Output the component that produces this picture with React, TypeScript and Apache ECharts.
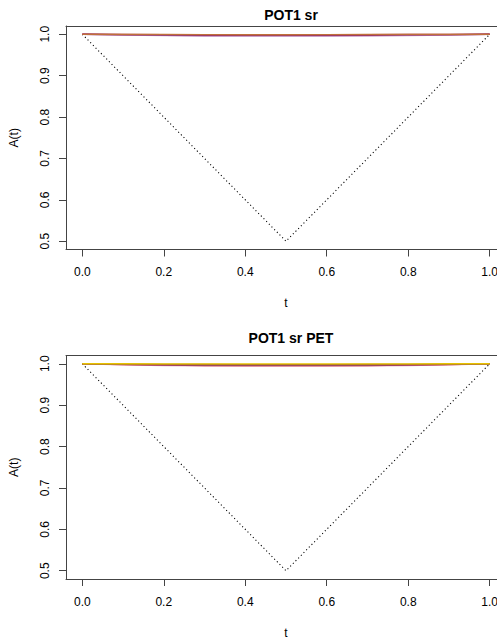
import React, { useEffect, useRef } from "react";
import * as echarts from "echarts";

// Evaluation points for the dependence functions
const tValues = [0, 0.1, 0.2, 0.3, 0.4, 0.5, 0.6, 0.7, 0.8, 0.9, 1.0];

// Lower bound max(t, 1 - t)
const boundT = [0, 0.5, 1];
const boundA = [1, 0.5, 1];

const xTicks = [0, 0.2, 0.4, 0.6, 0.8, 1.0];
const yTicks = [0.5, 0.6, 0.7, 0.8, 0.9, 1.0];

// Panel 1: POT1 sr
const srLavender = [1, 0.9982, 0.9968, 0.996, 0.9956, 0.9955, 0.9956, 0.996, 0.9968, 0.9982, 1];
const srPurple = [1, 0.9987, 0.9977, 0.9971, 0.9968, 0.9968, 0.9969, 0.9973, 0.998, 0.999, 1];
const srRed = [1, 0.9996, 0.9992, 0.9989, 0.9988, 0.9988, 0.9988, 0.999, 0.9993, 0.9996, 1];
const srOrange = [1, 0.9998, 0.9996, 0.9995, 0.9994, 0.9994, 0.9995, 0.9996, 0.9997, 0.9999, 1];

// Panel 2: POT1 sr PET
const petPink = [1, 0.9975, 0.996, 0.995, 0.9945, 0.9944, 0.9945, 0.995, 0.996, 0.9975, 1];
const petRed = [1, 0.998, 0.9968, 0.996, 0.9956, 0.9955, 0.9956, 0.996, 0.9968, 0.998, 1];
const petPurple = [1, 0.9986, 0.9977, 0.9971, 0.9968, 0.9967, 0.9968, 0.9971, 0.9977, 0.9986, 1];
const petBrown = [1, 0.9992, 0.9986, 0.9982, 0.998, 0.998, 0.998, 0.9982, 0.9986, 0.9992, 1];
const petYellow = [1, 0.9999, 0.9998, 0.9998, 0.9997, 0.9997, 0.9997, 0.9998, 0.9998, 0.9999, 1];

const titles = ["POT1 sr", "POT1 sr PET"];

const FONT = "Liberation Sans, Arial, Helvetica, sans-serif";
const FRAME = "#444";

const pair = (ys: number[]) => tValues.map((t, i) => [t, ys[i]]);

export default function App() {
  const ref = useRef<HTMLDivElement>(null);

  useEffect(() => {
    if (!ref.current) return;
    const chart = echarts.init(ref.current, undefined, { renderer: "svg" });

    const grids = [
      { left: 66, top: 26, width: 440, height: 223.5 },
      { left: 66, top: 355.5, width: 440, height: 223.5 },
    ];

    // bottom axes (with ticks and labels)
    const xAxes: any[] = grids.map((_, i) => ({
      type: "value",
      gridIndex: i,
      position: "bottom",
      min: -0.04,
      max: 1.04,
      name: "t",
      nameLocation: "middle",
      nameGap: i === 0 ? 47 : 48,
      nameTextStyle: { fontFamily: FONT, fontSize: 12, color: "#000" },
      axisLine: { show: true, onZero: false, lineStyle: { color: FRAME, width: 1 } },
      splitLine: { show: false },
      axisTick: {
        show: true,
        inside: false,
        length: 7,
        customValues: xTicks,
        lineStyle: { color: FRAME, width: 1 },
      },
      axisLabel: {
        show: true,
        customValues: xTicks,
        hideOverlap: false,
        margin: i === 0 ? 16 : 17,
        fontFamily: FONT,
        fontSize: 12,
        color: "#000",
        formatter: (v: number) => v.toFixed(1),
      },
    }));
    // top edges of the plot boxes
    grids.forEach((_, i) =>
      xAxes.push({
        type: "value",
        gridIndex: i,
        position: "top",
        min: -0.04,
        max: 1.04,
        axisLine: { show: true, onZero: false, lineStyle: { color: FRAME, width: 1 } },
        axisTick: { show: false },
        axisLabel: { show: false },
        splitLine: { show: false },
      })
    );

    const yAxes: any[] = grids.map((_, i) => ({
      type: "value",
      gridIndex: i,
      min: 0.48,
      max: 1.02,
      name: "A(t)",
      nameLocation: "middle",
      nameGap: 46,
      nameRotate: 90,
      nameTextStyle: { fontFamily: FONT, fontSize: 12, color: "#000" },
      axisLine: { show: true, onZero: false, lineStyle: { color: FRAME, width: 1 } },
      splitLine: { show: false },
      axisTick: {
        show: true,
        inside: false,
        length: 7,
        customValues: yTicks,
        lineStyle: { color: FRAME, width: 1 },
      },
      axisLabel: {
        show: true,
        customValues: yTicks,
        hideOverlap: false,
        rotate: 90,
        margin: 15,
        fontFamily: FONT,
        fontSize: 12,
        color: "#000",
        formatter: (v: number) => v.toFixed(1),
      },
    }));

    const line = (idx: number, name: string, data: number[][], color: string, width = 1.4) => ({
      type: "line" as const,
      name,
      xAxisIndex: idx,
      yAxisIndex: idx,
      data,
      showSymbol: false,
      smooth: false,
      lineStyle: { color, width },
      z: 3,
    });

    const bound = (idx: number) => ({
      type: "line" as const,
      name: "bound",
      xAxisIndex: idx,
      yAxisIndex: idx,
      data: boundT.map((t, i) => [t, boundA[i]]),
      showSymbol: false,
      lineStyle: { color: "#000", width: 1.1, type: [1.1, 2.7] as any },
      z: 2,
    });

    chart.setOption({
      animation: false,
      backgroundColor: "#fff",
      title: titles.map((text, i) => ({
        text,
        left: 286,
        top: i === 0 ? 3 : 326,
        textAlign: "center",
        textStyle: { fontFamily: FONT, fontSize: 14, fontWeight: "bold", color: "#000" },
      })),
      grid: grids.map((g) => ({
        ...g,
        show: false,
        outerBoundsMode: "none",
        containLabel: false,
      })),
      xAxis: xAxes,
      yAxis: yAxes,
      series: [
        bound(0),
        line(0, "lavender", pair(srLavender), "#cfa3cf"),
        line(0, "purple", pair(srPurple), "#9a5a9a"),
        line(0, "red", pair(srRed), "#a31f2a"),
        line(0, "orange", pair(srOrange), "#c0703a", 1.2),
        bound(1),
        line(1, "pink", pair(petPink), "#e8a0b4"),
        line(1, "red", pair(petRed), "#c0303a"),
        line(1, "purple", pair(petPurple), "#8a4a8a"),
        line(1, "brown", pair(petBrown), "#a0602a"),
        line(1, "yellow", pair(petYellow), "#e6c200"),
      ],
    });

    return () => chart.dispose();
  }, []);

  return (
    <div
      ref={ref}
      style={{ position: "fixed", left: 0, top: 0, width: 497, height: 642, background: "#fff" }}
    />
  );
}
